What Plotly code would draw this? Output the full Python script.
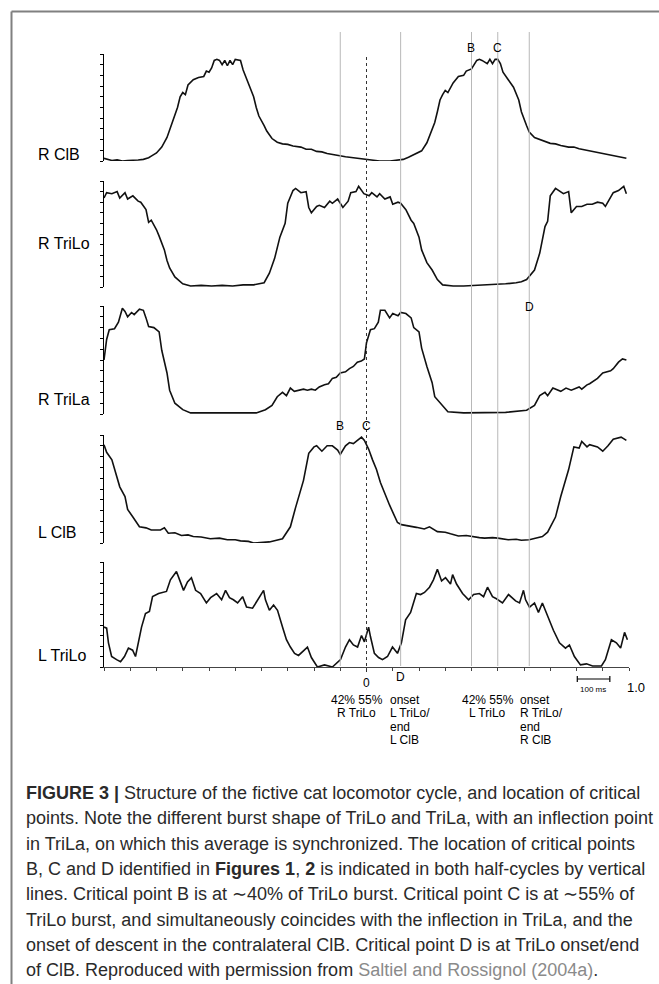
import plotly.graph_objects as go

W, H = 659, 984

# ---------------- data (phase of cycle, amplitude in tick units 0-10) ----------------
rclb_x = [-1.00, -0.98, -0.97, -0.95, -0.93, -0.91, -0.89, -0.87, -0.85, -0.83, -0.82, -0.80, -0.78, -0.76,
          -0.74, -0.72, -0.71, -0.70, -0.69, -0.68, -0.66, -0.64, -0.62, -0.61, -0.60, -0.59, -0.58, -0.57,
          -0.56, -0.55, -0.54, -0.53, -0.52, -0.51, -0.50, -0.48, -0.47, -0.45, -0.43, -0.42, -0.41, -0.39,
          -0.38, -0.36, -0.34, -0.32, -0.30, -0.28, -0.27, -0.25, -0.23, -0.21, -0.19, -0.17, -0.15, -0.13,
          -0.10, -0.08, -0.05, -0.03, 0.00, 0.02, 0.05, 0.09, 0.12, 0.14, 0.16, 0.19, 0.21, 0.23, 0.24,
          0.26, 0.27, 0.28, 0.29, 0.30, 0.31, 0.33, 0.35, 0.37, 0.38, 0.40, 0.42, 0.43, 0.44, 0.46, 0.47,
          0.48, 0.49, 0.50, 0.51, 0.52, 0.54, 0.56, 0.58, 0.59, 0.61, 0.62, 0.64, 0.66, 0.68, 0.70, 0.72,
          0.74, 0.77, 0.79, 0.81, 0.83, 0.85, 0.87, 0.89, 0.91, 0.93, 0.95, 0.97, 0.99]
rclb_y = [0.25, 0.1, 0.05, 0.1, 0.0, 0.05, 0.05, 0.1, 0.15, 0.3, 0.45, 0.75, 1.3, 2.2,
          3.6, 5.0, 6.0, 6.4, 6.2, 7.1, 7.6, 7.8, 7.9, 8.4, 8.3, 8.7, 9.4, 9.5,
          9.4, 9.0, 9.4, 8.9, 9.4, 9.0, 9.5, 9.4, 8.5, 7.3, 6.0, 5.0, 4.2, 3.3,
          2.8, 2.1, 1.75, 1.6, 1.55, 1.4, 1.35, 1.3, 1.1, 1.1, 0.9, 0.85, 0.7, 0.6,
          0.45, 0.4, 0.3, 0.25, 0.15, 0.1, 0.0, 0.0, 0.05, 0.15, 0.35, 0.7, 0.95, 1.7, 2.3,
          3.6, 4.6, 5.7, 6.2, 6.6, 6.4, 7.3, 7.9, 8.0, 8.4, 8.6, 9.4, 9.5, 9.4, 9.1, 9.5,
          9.1, 9.5, 9.5, 9.1, 8.3, 7.6, 6.9, 5.7, 4.6, 3.3, 2.7, 2.2, 2.0, 1.8, 1.65, 1.6,
          1.45, 1.3, 1.3, 1.15, 1.05, 0.95, 0.9, 0.75, 0.7, 0.55, 0.5, 0.4, 0.25]

rtrilo_x = [-1.00, -0.99, -0.97, -0.95, -0.94, -0.92, -0.91, -0.89, -0.87, -0.86, -0.84, -0.83, -0.82, -0.80,
            -0.79, -0.77, -0.76, -0.75, -0.73, -0.70, -0.67, -0.63, -0.59, -0.55, -0.51, -0.47, -0.43, -0.39,
            -0.37, -0.35, -0.33, -0.31, -0.30, -0.28, -0.27, -0.25, -0.23, -0.22, -0.21, -0.19, -0.18, -0.16,
            -0.14, -0.13, -0.11, -0.10, -0.09, -0.07, -0.06, -0.04, -0.03, -0.01, 0.01, 0.02, 0.04, 0.05,
            0.07, 0.09, 0.10, 0.12, 0.13, 0.15, 0.17, 0.18, 0.20, 0.21, 0.23, 0.25, 0.27, 0.29, 0.33, 0.37,
            0.41, 0.45, 0.49, 0.53, 0.57, 0.59, 0.61, 0.64, 0.66, 0.68, 0.69, 0.70, 0.72, 0.74, 0.75, 0.77,
            0.78, 0.80, 0.82, 0.84, 0.86, 0.88, 0.90, 0.91, 0.93, 0.94, 0.96, 0.98, 0.99]
rtrilo_y = [8.4, 8.9, 8.8, 9.0, 8.4, 8.9, 8.3, 8.6, 8.1, 8.0, 7.3, 6.1, 6.3, 5.4,
            4.8, 3.5, 2.5, 1.8, 0.95, 0.3, 0.1, 0.15, 0.1, 0.15, 0.1, 0.2, 0.2, 0.4,
            1.3, 2.7, 4.7, 6.0, 7.9, 9.1, 9.3, 8.9, 9.0, 7.5, 7.0, 7.6, 7.7, 7.5,
            8.1, 7.9, 8.3, 7.9, 7.5, 8.1, 8.9, 9.0, 9.5, 8.8, 8.6, 8.9, 8.5, 8.8,
            8.3, 8.5, 7.8, 8.0, 7.9, 7.3, 6.3, 6.0, 4.7, 3.5, 2.3, 1.6, 0.7, 0.2, 0.1, 0.1,
            0.15, 0.15, 0.2, 0.3, 0.4, 0.5, 0.7, 1.6, 3.2, 5.7, 6.2, 8.6, 9.3, 9.0, 8.8, 9.0,
            7.0, 7.6, 7.6, 7.8, 7.8, 8.0, 7.9, 7.6, 8.4, 8.9, 9.1, 9.5, 8.8]

rtrila_x = [-1.00, -0.99, -0.98, -0.96, -0.945, -0.93, -0.92, -0.91, -0.895, -0.885, -0.865, -0.85, -0.84,
            -0.83, -0.81, -0.79, -0.78, -0.76, -0.75, -0.73, -0.70, -0.67, -0.60, -0.50, -0.42, -0.385,
            -0.36, -0.34, -0.32, -0.305, -0.29, -0.275, -0.26, -0.24, -0.225, -0.21, -0.195, -0.18, -0.16,
            -0.145, -0.13, -0.115, -0.10, -0.08, -0.065, -0.05, -0.035, -0.02, -0.008, 0.00, 0.015, 0.03,
            0.045, 0.053, 0.07, 0.088, 0.10, 0.12, 0.13, 0.15, 0.17, 0.18, 0.20, 0.21, 0.23, 0.25, 0.26,
            0.29, 0.31, 0.37, 0.45, 0.53, 0.61, 0.64, 0.66, 0.68, 0.69, 0.71, 0.74, 0.76, 0.78, 0.81, 0.82,
            0.84, 0.85, 0.88, 0.90, 0.93, 0.94, 0.96, 0.975, 0.99]
rtrila_y = [5.0, 6.9, 7.8, 7.9, 8.5, 9.8, 9.5, 9.0, 9.4, 9.2, 9.7, 9.6, 8.9,
            8.1, 8.0, 7.6, 5.9, 3.8, 2.2, 1.0, 0.4, 0.1, 0.1, 0.1, 0.1, 0.4,
            0.8, 1.6, 2.0, 1.7, 2.4, 2.1, 2.2, 2.3, 2.2, 2.3, 2.2, 2.5, 2.7,
            2.8, 3.3, 3.4, 3.8, 3.9, 4.2, 4.4, 4.8, 4.9, 5.1, 6.6, 7.8, 7.9,
            8.5, 9.6, 9.6, 8.9, 9.3, 9.1, 9.4, 9.3, 8.9, 8.0, 7.6, 6.1, 4.4, 2.9, 1.6,
            0.7, 0.2, 0.1, 0.1, 0.15, 0.35, 0.8, 1.7, 2.0, 1.7, 2.4, 2.1, 2.4, 2.2, 2.5, 2.3,
            2.7, 2.8, 3.3, 3.8, 4.0, 4.2, 4.8, 5.1, 5.0]

lclb_x = [-1.00, -0.99, -0.97, -0.95, -0.94, -0.92, -0.91, -0.89, -0.865, -0.84, -0.82, -0.785, -0.77,
          -0.755, -0.73, -0.705, -0.68, -0.66, -0.63, -0.595, -0.56, -0.53, -0.50, -0.48, -0.45, -0.43,
          -0.40, -0.37, -0.32, -0.29, -0.27, -0.24, -0.22,
          -0.20, -0.19, -0.17, -0.15, -0.13, -0.11, -0.10, -0.08, -0.065, -0.05, -0.035, -0.019, -0.008,
          0.008, 0.023, 0.038, 0.053, 0.069, 0.088, 0.103, 0.118, 0.133, 0.16, 0.19, 0.22, 0.24, 0.27,
          0.30, 0.32, 0.35, 0.38, 0.40, 0.43, 0.45, 0.48, 0.50, 0.54, 0.57, 0.59, 0.62, 0.67, 0.69, 0.72,
          0.74, 0.77, 0.79, 0.81, 0.82, 0.84, 0.85, 0.88, 0.90, 0.92, 0.94, 0.97, 0.99]
lclb_y = [9.1, 8.4, 7.7, 6.1, 5.2, 4.3, 3.1, 2.4, 1.5, 1.4, 1.2, 1.2, 1.4,
          0.9, 0.95, 0.7, 0.75, 0.6, 0.55, 0.4, 0.45, 0.3, 0.3, 0.2, 0.15, 0.0,
          0.05, 0.1, 0.4, 1.5, 3.3, 5.8, 8.3,
          8.9, 9.0, 8.5, 9.0, 9.0, 8.6, 8.2, 9.0, 9.3, 9.2, 9.5, 9.8, 9.5,
          8.7, 7.7, 6.8, 5.6, 4.6, 3.5, 2.7, 1.9, 1.7, 1.55, 1.45, 1.3, 1.5, 1.05,
          1.0, 0.85, 0.65, 0.7, 0.6, 0.5, 0.45, 0.5, 0.45, 0.3, 0.35, 0.25, 0.3, 0.6, 1.0, 2.4,
          4.3, 6.8, 8.9, 8.8, 9.4, 8.9, 9.1, 8.9, 8.5, 9.0, 9.6, 9.8, 9.5]

ltrilo_x = [-1.00, -0.99, -0.983, -0.971, -0.952, -0.937, -0.922, -0.907, -0.891, -0.88, -0.857, -0.842,
            -0.827, -0.815, -0.792, -0.777, -0.762, -0.747, -0.724, -0.712, -0.697, -0.682, -0.667, -0.651,
            -0.632, -0.61, -0.594, -0.571, -0.552, -0.537, -0.522, -0.507, -0.491, -0.472, -0.457, -0.434,
            -0.415, -0.392, -0.385, -0.37, -0.354, -0.339, -0.32, -0.305, -0.29, -0.274, -0.259, -0.24,
            -0.225, -0.21, -0.187, -0.16, -0.13, -0.099, -0.08, -0.065, -0.05, -0.034, -0.019, -0.008,
            0.008, 0.015, 0.03, 0.046, 0.061, 0.08, 0.099, 0.118, 0.133, 0.149, 0.168, 0.19, 0.206, 0.221,
            0.24, 0.255, 0.27, 0.286, 0.301, 0.32, 0.328, 0.343, 0.366, 0.389, 0.408, 0.43, 0.446, 0.461,
            0.48, 0.495, 0.518, 0.541, 0.568, 0.583, 0.598, 0.606, 0.621, 0.64, 0.655, 0.67, 0.686, 0.712,
            0.735, 0.758, 0.773, 0.792, 0.815, 0.838, 0.861, 0.895, 0.91, 0.933, 0.952, 0.968, 0.983, 0.994]
ltrilo_y = [3.8, 3.7, 2.3, 1.0, 0.7, 0.5, 1.0, 1.8, 1.6, 1.0, 3.8, 5.1,
            5.3, 6.7, 7.0, 7.1, 7.2, 8.3, 9.1, 8.3, 7.3, 8.1, 8.5, 7.3,
            7.0, 6.1, 6.6, 7.0, 6.4, 7.3, 6.6, 6.4, 6.1, 6.7, 5.7, 5.6,
            6.4, 7.3, 6.4, 5.4, 5.9, 5.4, 3.8, 2.6, 1.9, 1.3, 1.1, 1.6,
            1.9, 0.9, 0.0, 0.2, 0.0, 0.7, 1.9, 2.6, 2.1, 1.9, 3.0, 2.4,
            3.8, 2.9, 1.3, 0.9, 0.7, 1.0, 1.9, 1.3, 2.3, 4.5, 5.2, 7.0, 6.9, 7.1,
            7.6, 8.3, 9.3, 8.2, 8.5, 7.9, 8.8, 7.9, 7.0, 6.4, 6.9, 7.0, 6.7, 7.6,
            6.7, 6.5, 6.1, 6.9, 6.3, 6.1, 7.3, 6.4, 5.7, 6.1, 5.2, 6.1, 5.1, 3.5,
            2.3, 1.8, 2.1, 1.0, 0.2, 0.3, 0.1, 0.1, 0.7, 2.6, 2.3, 1.8, 3.3, 2.6]

panel_names = ["R ClB", "R TriLo", "R TriLa", "L ClB", "L TriLo"]
solid_lines = [-0.10, 0.13, 0.40, 0.50, 0.62]   # critical points B, D, B', C', D'
dashed_line = 0.0                                # critical point C (sync point)
scale_bar_start = 0.803
scale_bar_len = 0.124                            # 100 ms in cycle units

# ---------------- layout geometry (pixels) ----------------
def yp(py):
    return 1 - py / H

def xp(px):
    return px / W

X0, X1 = 104, 629
panel_px = [(54, 161), (181, 287), (306, 414), (435, 543), (562, 667)]
label_py = [155, 244, 399, 532, 655]
series = [(rclb_x, rclb_y), (rtrilo_x, rtrilo_y), (rtrila_x, rtrila_y), (lclb_x, lclb_y), (ltrilo_x, ltrilo_y)]

FONT = "Liberation Sans, Arial, Helvetica, sans-serif"
fig = go.Figure()
layout = dict(
    width=W, height=H, margin=dict(l=0, r=0, t=0, b=0),
    paper_bgcolor="white", plot_bgcolor="white", showlegend=False,
    font=dict(family=FONT, color="black"),
)

layout["xaxis"] = dict(domain=[xp(X0), xp(X1)], range=[-1, 1], anchor="y5",
                       showline=True, linecolor="#444", linewidth=1,
                       ticks="outside", ticklen=3, tickwidth=1, tickcolor="#444",
                       tick0=-1, dtick=0.1, showticklabels=False,
                       showgrid=False, zeroline=False)

annotations = []
for i, ((top, bot), (sx, sy)) in enumerate(zip(panel_px, series)):
    n = i + 1
    key = "yaxis" if n == 1 else f"yaxis{n}"
    layout[key] = dict(domain=[yp(bot), yp(top)], range=[0, 10], anchor="x",
                       showline=True, linecolor="black", linewidth=1,
                       ticks="outside", ticklen=3, tickwidth=1, tickcolor="black",
                       tick0=0, dtick=1, showticklabels=False,
                       showgrid=False, zeroline=False)
    fig.add_trace(go.Scatter(x=sx, y=sy, mode="lines", xaxis="x",
                             yaxis="y" if n == 1 else f"y{n}",
                             line=dict(color="#111", width=1.6), hoverinfo="skip"))
    annotations.append(dict(text=panel_names[i], x=xp(36), y=yp(label_py[i]), xref="paper", yref="paper",
                            xanchor="left", yanchor="middle", showarrow=False,
                            font=dict(size=16, family=FONT, color="black")))

shapes = []
for xv in solid_lines:
    shapes.append(dict(type="line", xref="x", yref="paper", x0=xv, x1=xv, y0=yp(666), y1=yp(32),
                       line=dict(color="#b8b8b8", width=1)))
shapes.append(dict(type="line", xref="x", yref="paper", x0=dashed_line, x1=dashed_line,
                   y0=yp(672), y1=yp(54), line=dict(color="#333", width=1, dash="dot")))

# scale bar
sb0, sb1 = scale_bar_start, scale_bar_start + scale_bar_len
shapes.append(dict(type="line", xref="x", yref="paper", x0=sb0, x1=sb1, y0=yp(679), y1=yp(679),
                   line=dict(color="black", width=1.2)))
for xv in (sb0, sb1):
    shapes.append(dict(type="line", xref="x", yref="paper", x0=xv, x1=xv, y0=yp(676), y1=yp(682),
                       line=dict(color="black", width=1.2)))

# frame
shapes.append(dict(type="line", xref="paper", yref="paper", x0=xp(11.5), x1=1, y0=yp(11.5), y1=yp(11.5),
                   line=dict(color="#808080", width=2)))
shapes.append(dict(type="line", xref="paper", yref="paper", x0=xp(11.5), x1=xp(11.5), y0=0, y1=yp(11.5),
                   line=dict(color="#808080", width=2)))

def txt(s, px, py, size=12, anchor="center", color="black"):
    annotations.append(dict(text=s, x=xp(px), y=yp(py), xref="paper", yref="paper",
                            xanchor=anchor, yanchor="middle", showarrow=False,
                            font=dict(size=size, family=FONT, color=color)))

txt("B", 471, 48); txt("C", 497, 48)
txt("D", 529, 307)
txt("B", 340, 426); txt("C", 366, 426)
txt("0", 366, 683); txt("D", 400, 677)
txt("100 ms", 593, 689, size=8)
txt("1.0", 636, 687, size=13)
txt("42% 55%", 357, 700); txt("R TriLo", 357, 713)
for s, py in [("onset", 700), ("L TriLo/", 713), ("end", 727), ("L ClB", 740)]:
    txt(s, 388, py, anchor="left")
txt("42% 55%", 488, 700); txt("L TriLo", 488, 713)
for s, py in [("onset", 700), ("R TriLo/", 713), ("end", 727), ("R ClB", 740)]:
    txt(s, 518, py, anchor="left")

caption = [
    "<b>FIGURE 3 |</b> Structure of the fictive cat locomotor cycle, and location of critical",
    "points. Note the different burst shape of TriLo and TriLa, with an inflection point",
    "in TriLa, on which this average is synchronized. The location of critical points",
    "B, C and D identified in <b>Figures 1</b>, <b>2</b> is indicated in both half-cycles by vertical",
    "lines. Critical point B is at ∼40% of TriLo burst. Critical point C is at ∼55% of",
    "TriLo burst, and simultaneously coincides with the inflection in TriLa, and the",
    "onset of descent in the contralateral ClB. Critical point D is at TriLo onset/end",
    "of ClB. Reproduced with permission from <span style='color:#8a8a8a'>Saltiel and Rossignol (2004a)</span>.",
]
for k, line in enumerate(caption):
    txt(line, 24, 793 + k * 25.3, size=18, anchor="left", color="#2a2a2a")

layout["annotations"] = annotations
layout["shapes"] = shapes
fig.update_layout(**layout)
fig.write_html("out.html")
